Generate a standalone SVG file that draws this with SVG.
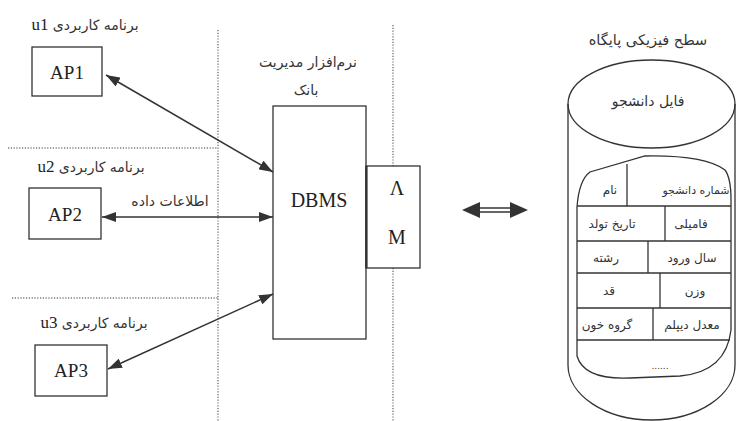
<svg xmlns="http://www.w3.org/2000/svg" width="736" height="421" viewBox="0 0 736 421">
<style>
.box{fill:#fff;stroke:#333;stroke-width:1.3}
.dot{stroke:#777;stroke-width:1.4;stroke-dasharray:1.2 1.6;fill:none}
.lat{font-family:"Liberation Serif",serif;fill:#222}
.fa{font-family:"DejaVu Sans",sans-serif;fill:#333}
.conn{stroke:#333;stroke-width:1.5;fill:none}
.ln{stroke:#333;stroke-width:1.3;fill:none}
</style>
<defs>
<marker id="ah" viewBox="0 0 14 10" refX="14" refY="5" markerWidth="14" markerHeight="10" markerUnits="userSpaceOnUse" orient="auto-start-reverse"><path d="M0,0 L14,5 L0,10 Z" fill="#333"/></marker>
</defs>
<rect width="736" height="421" fill="#fff"/>
<g id="separators">
<line class="dot" x1="218" y1="30" x2="218" y2="421"/>
<line class="dot" x1="8" y1="148" x2="218" y2="148"/>
<line class="dot" x1="12" y1="298" x2="218" y2="298"/>
<line class="dot" x1="393" y1="25" x2="393" y2="166"/>
<line class="dot" x1="393" y1="268" x2="393" y2="421"/>
</g>
<g id="u1">
<text x="85" y="30" text-anchor="middle" direction="rtl"><tspan class="fa" font-size="14">برنامه کاربردی </tspan><tspan class="lat" font-size="17">u1</tspan></text>
</g>
<g id="AP1"><rect class="box" x="32" y="47" width="70" height="49"/><text class="lat" x="67" y="79" font-size="19" text-anchor="middle">AP1</text></g>
<g id="u2">
<text x="91" y="172" text-anchor="middle" direction="rtl"><tspan class="fa" font-size="14">برنامه کاربردی </tspan><tspan class="lat" font-size="17">u2</tspan></text>
</g>
<g id="AP2"><rect class="box" x="29" y="188" width="72" height="51"/><text class="lat" x="65" y="221" font-size="19" text-anchor="middle">AP2</text></g>
<g id="u3">
<text x="94" y="328" text-anchor="middle" direction="rtl"><tspan class="fa" font-size="14">برنامه کاربردی </tspan><tspan class="lat" font-size="17">u3</tspan></text>
</g>
<g id="AP3"><rect class="box" x="35" y="345" width="72" height="51"/><text class="lat" x="71" y="377" font-size="19" text-anchor="middle">AP3</text></g>
<g id="DBMS">
<text class="fa" x="308" y="67" font-size="14" text-anchor="middle">نرم‌افزار مدیریت</text>
<text class="fa" x="306" y="95" font-size="14" text-anchor="middle">بانک</text>
<rect class="box" x="273" y="106" width="93" height="233"/>
<text class="lat" x="319" y="207" font-size="20" text-anchor="middle">DBMS</text>
</g>
<g id="AM">
<rect class="box" x="366" y="166" width="54" height="102"/>
<line x1="366.5" y1="166" x2="366.5" y2="268" stroke="#333" stroke-width="2.2"/>
<text class="lat" x="397" y="195" font-size="20" text-anchor="middle">Λ</text>
<text class="lat" x="397" y="244" font-size="20" text-anchor="middle">M</text>
</g>
<g id="connectors">
<line class="conn" x1="106" y1="75" x2="273" y2="172" marker-start="url(#ah)" marker-end="url(#ah)"/>
<line class="conn" x1="102" y1="217" x2="273" y2="217" marker-start="url(#ah)" marker-end="url(#ah)"/>
<line class="conn" x1="108" y1="369" x2="273" y2="294" marker-start="url(#ah)" marker-end="url(#ah)"/>
<text class="fa" x="170" y="206" font-size="14" text-anchor="middle">اطلاعات داده</text>
<g id="double-arrow">
<line class="ln" x1="478" y1="208" x2="512" y2="208"/>
<line class="ln" x1="478" y1="212" x2="512" y2="212"/>
<path d="M462,210 L480,202 L480,218 Z" fill="#333"/>
<path d="M528,210 L510,202 L510,218 Z" fill="#333"/>
</g>
</g>
<g id="database">
<text class="fa" x="648" y="45" font-size="14.5" text-anchor="middle">سطح فیزیکی پایگاه</text>
<path class="ln" d="M568,104 L568,365 A83.5,55 0 0 0 735,365 L735,104"/>
<ellipse class="ln" cx="651.5" cy="104" rx="83.5" ry="44" fill="#fff"/>
<text class="fa" x="648" y="106" font-size="14" text-anchor="middle">فایل دانشجو</text>
<path class="ln" d="M577,207 Q579,180 590,172 L645,156 Q705,155 725,170 Q731,178 731,200 L731,330 Q726,372 680,376 L630,378 Q584,380 577,356 Z"/>
<g id="fields" class="ln">
<line x1="577" y1="206" x2="731" y2="206"/>
<line x1="577" y1="241" x2="731" y2="241"/>
<line x1="577" y1="273" x2="731" y2="273"/>
<line x1="577" y1="308" x2="731" y2="308"/>
<line x1="577" y1="340" x2="730" y2="340"/>
<line x1="627" y1="164" x2="627" y2="206"/>
<line x1="665" y1="206" x2="665" y2="241"/>
<line x1="648" y1="241" x2="648" y2="273"/>
<line x1="660" y1="273" x2="660" y2="308"/>
<line x1="653" y1="308" x2="653" y2="340"/>
</g>
<text class="fa" x="696" y="194" font-size="11" text-anchor="middle">شماره دانشجو</text>
<text class="fa" x="610" y="194" font-size="12" text-anchor="middle">نام</text>
<text class="fa" x="612" y="228" font-size="12" text-anchor="middle">تاریخ تولد</text>
<text class="fa" x="691" y="228" font-size="12" text-anchor="middle">فامیلی</text>
<text class="fa" x="606" y="262" font-size="12" text-anchor="middle">رشته</text>
<text class="fa" x="692" y="262" font-size="12" text-anchor="middle">سال ورود</text>
<text class="fa" x="609" y="295" font-size="12" text-anchor="middle">قد</text>
<text class="fa" x="695" y="295" font-size="12" text-anchor="middle">وزن</text>
<text class="fa" x="607" y="329" font-size="12" text-anchor="middle">گروه خون</text>
<text class="fa" x="692" y="329" font-size="12" text-anchor="middle">معدل دیپلم</text>
<text class="fa" x="660" y="369" font-size="9" text-anchor="middle">......</text>
</g>
</svg>
